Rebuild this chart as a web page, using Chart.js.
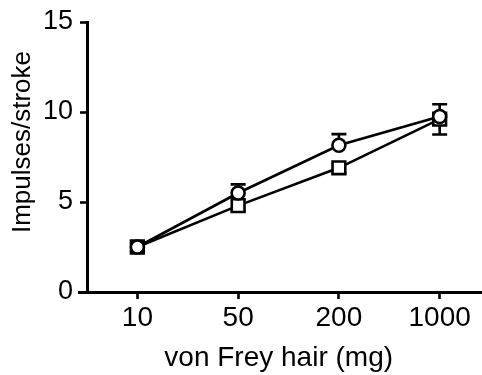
<!DOCTYPE html>
<html>
<head>
<meta charset="utf-8">
<script src="https://cdn.jsdelivr.net/npm/chart.js@4/dist/chart.umd.min.js"></script>
<style>
  html, body { margin: 0; padding: 0; background: #fff; overflow: hidden; }
  canvas { display: block; }
</style>
</head>
<body>
<canvas id="chart" width="482" height="375"></canvas>
<script>
// ── Data ──
const hairs = ['10', '50', '200', '1000'];
const circleMeans = [2.5, 5.5, 8.15, 9.75];
const circleErr = [0.25, 0.48, 0.62, 0.68];   // drawn upward
const squareMeans = [2.5, 4.8, 6.9, 9.6];
const squareErr = [0.25, 0.3, 0.3, 0.85];     // drawn downward
const yTicks = [0, 5, 10, 15];

const FONT = "'Liberation Sans', Arial, sans-serif";
const LW = 2.6;
const pts = arr => arr.map((v, i) => ({ x: i, y: v }));

// ── Error bars (drawn under the markers) ──
const errorBars = {
  id: 'errorBars',
  beforeDatasetsDraw(chart) {
    const { ctx, scales: { x, y } } = chart;
    const sets = [[circleMeans, circleErr, 1], [squareMeans, squareErr, -1]];
    ctx.save();
    ctx.strokeStyle = '#000';
    ctx.lineWidth = LW;
    sets.forEach(([means, errs, dir]) => {
      means.forEach((m, i) => {
        const px = x.getPixelForValue(i);
        const y0 = y.getPixelForValue(m);
        const y1 = y.getPixelForValue(m + dir * errs[i]);
        ctx.beginPath();
        ctx.moveTo(px, y0); ctx.lineTo(px, y1);
        ctx.moveTo(px - 7.5, y1); ctx.lineTo(px + 7.5, y1);
        ctx.stroke();
      });
    });
    ctx.restore();
  }
};

// ── Full-width x-axis line and the y title, placed like the original ──
const extras = {
  id: 'extras',
  afterDraw(chart) {
    const { ctx, chartArea } = chart;
    const yAxis = chartArea.bottom + 0.5;
    ctx.save();
    ctx.strokeStyle = '#000';
    ctx.lineWidth = 3;
    ctx.beginPath();
    ctx.moveTo(78, yAxis);
    ctx.lineTo(482, yAxis);
    ctx.stroke();

    ctx.translate(23, 142);
    ctx.rotate(-Math.PI / 2);
    ctx.font = `26px ${FONT}`;
    ctx.fillStyle = '#000';
    ctx.textAlign = 'center';
    ctx.textBaseline = 'middle';
    ctx.fillText('Impulses/stroke', 0, 0);
    ctx.restore();
  }
};

new Chart(document.getElementById('chart'), {
  type: 'line',
  data: {
    datasets: [
      {
        data: pts(circleMeans),
        borderColor: '#000', borderWidth: LW,
        pointStyle: 'circle', pointRadius: 6.5,
        pointBackgroundColor: '#fff', pointBorderColor: '#000', pointBorderWidth: LW,
        tension: 0
      },
      {
        data: pts(squareMeans),
        borderColor: '#000', borderWidth: LW,
        pointStyle: 'rect', pointRadius: 9,
        pointBackgroundColor: '#fff', pointBorderColor: '#000', pointBorderWidth: LW,
        tension: 0
      }
    ]
  },
  options: {
    responsive: false,
    devicePixelRatio: 1,
    animation: false,
    layout: { padding: { top: 22, right: 0, left: 0, bottom: 0 } },
    plugins: { legend: { display: false }, tooltip: { enabled: false } },
    scales: {
      x: {
        type: 'linear',
        bounds: 'data',
        min: -0.5, max: 3.305,
        afterBuildTicks: s => { s.ticks = hairs.map((_, i) => ({ value: i })); },
        afterFit: s => { s.height = 83; },
        ticks: {
          callback: v => hairs[v],
          color: '#000',
          font: { family: FONT, size: 28, lineHeight: 1 },
          padding: 5,
          maxRotation: 0
        },
        grid: { drawOnChartArea: false, color: '#000', tickLength: 7, tickWidth: LW },
        border: { display: false },
        title: {
          display: true, text: 'von Frey hair (mg)', color: '#000',
          font: { family: FONT, size: 28 }, padding: 0
        }
      },
      y: {
        min: 0, max: 15,
        afterBuildTicks: s => { s.ticks = yTicks.map(v => ({ value: v })); },
        afterFit: s => { s.width = 87; },
        ticks: {
          color: '#000',
          font: { family: FONT, size: 27, lineHeight: 1 },
          padding: 7
        },
        grid: { drawOnChartArea: false, color: '#000', tickLength: 7, tickWidth: LW },
        border: { color: '#000', width: 3 }
      }
    }
  },
  plugins: [errorBars, extras]
});
</script>
</body>
</html>
